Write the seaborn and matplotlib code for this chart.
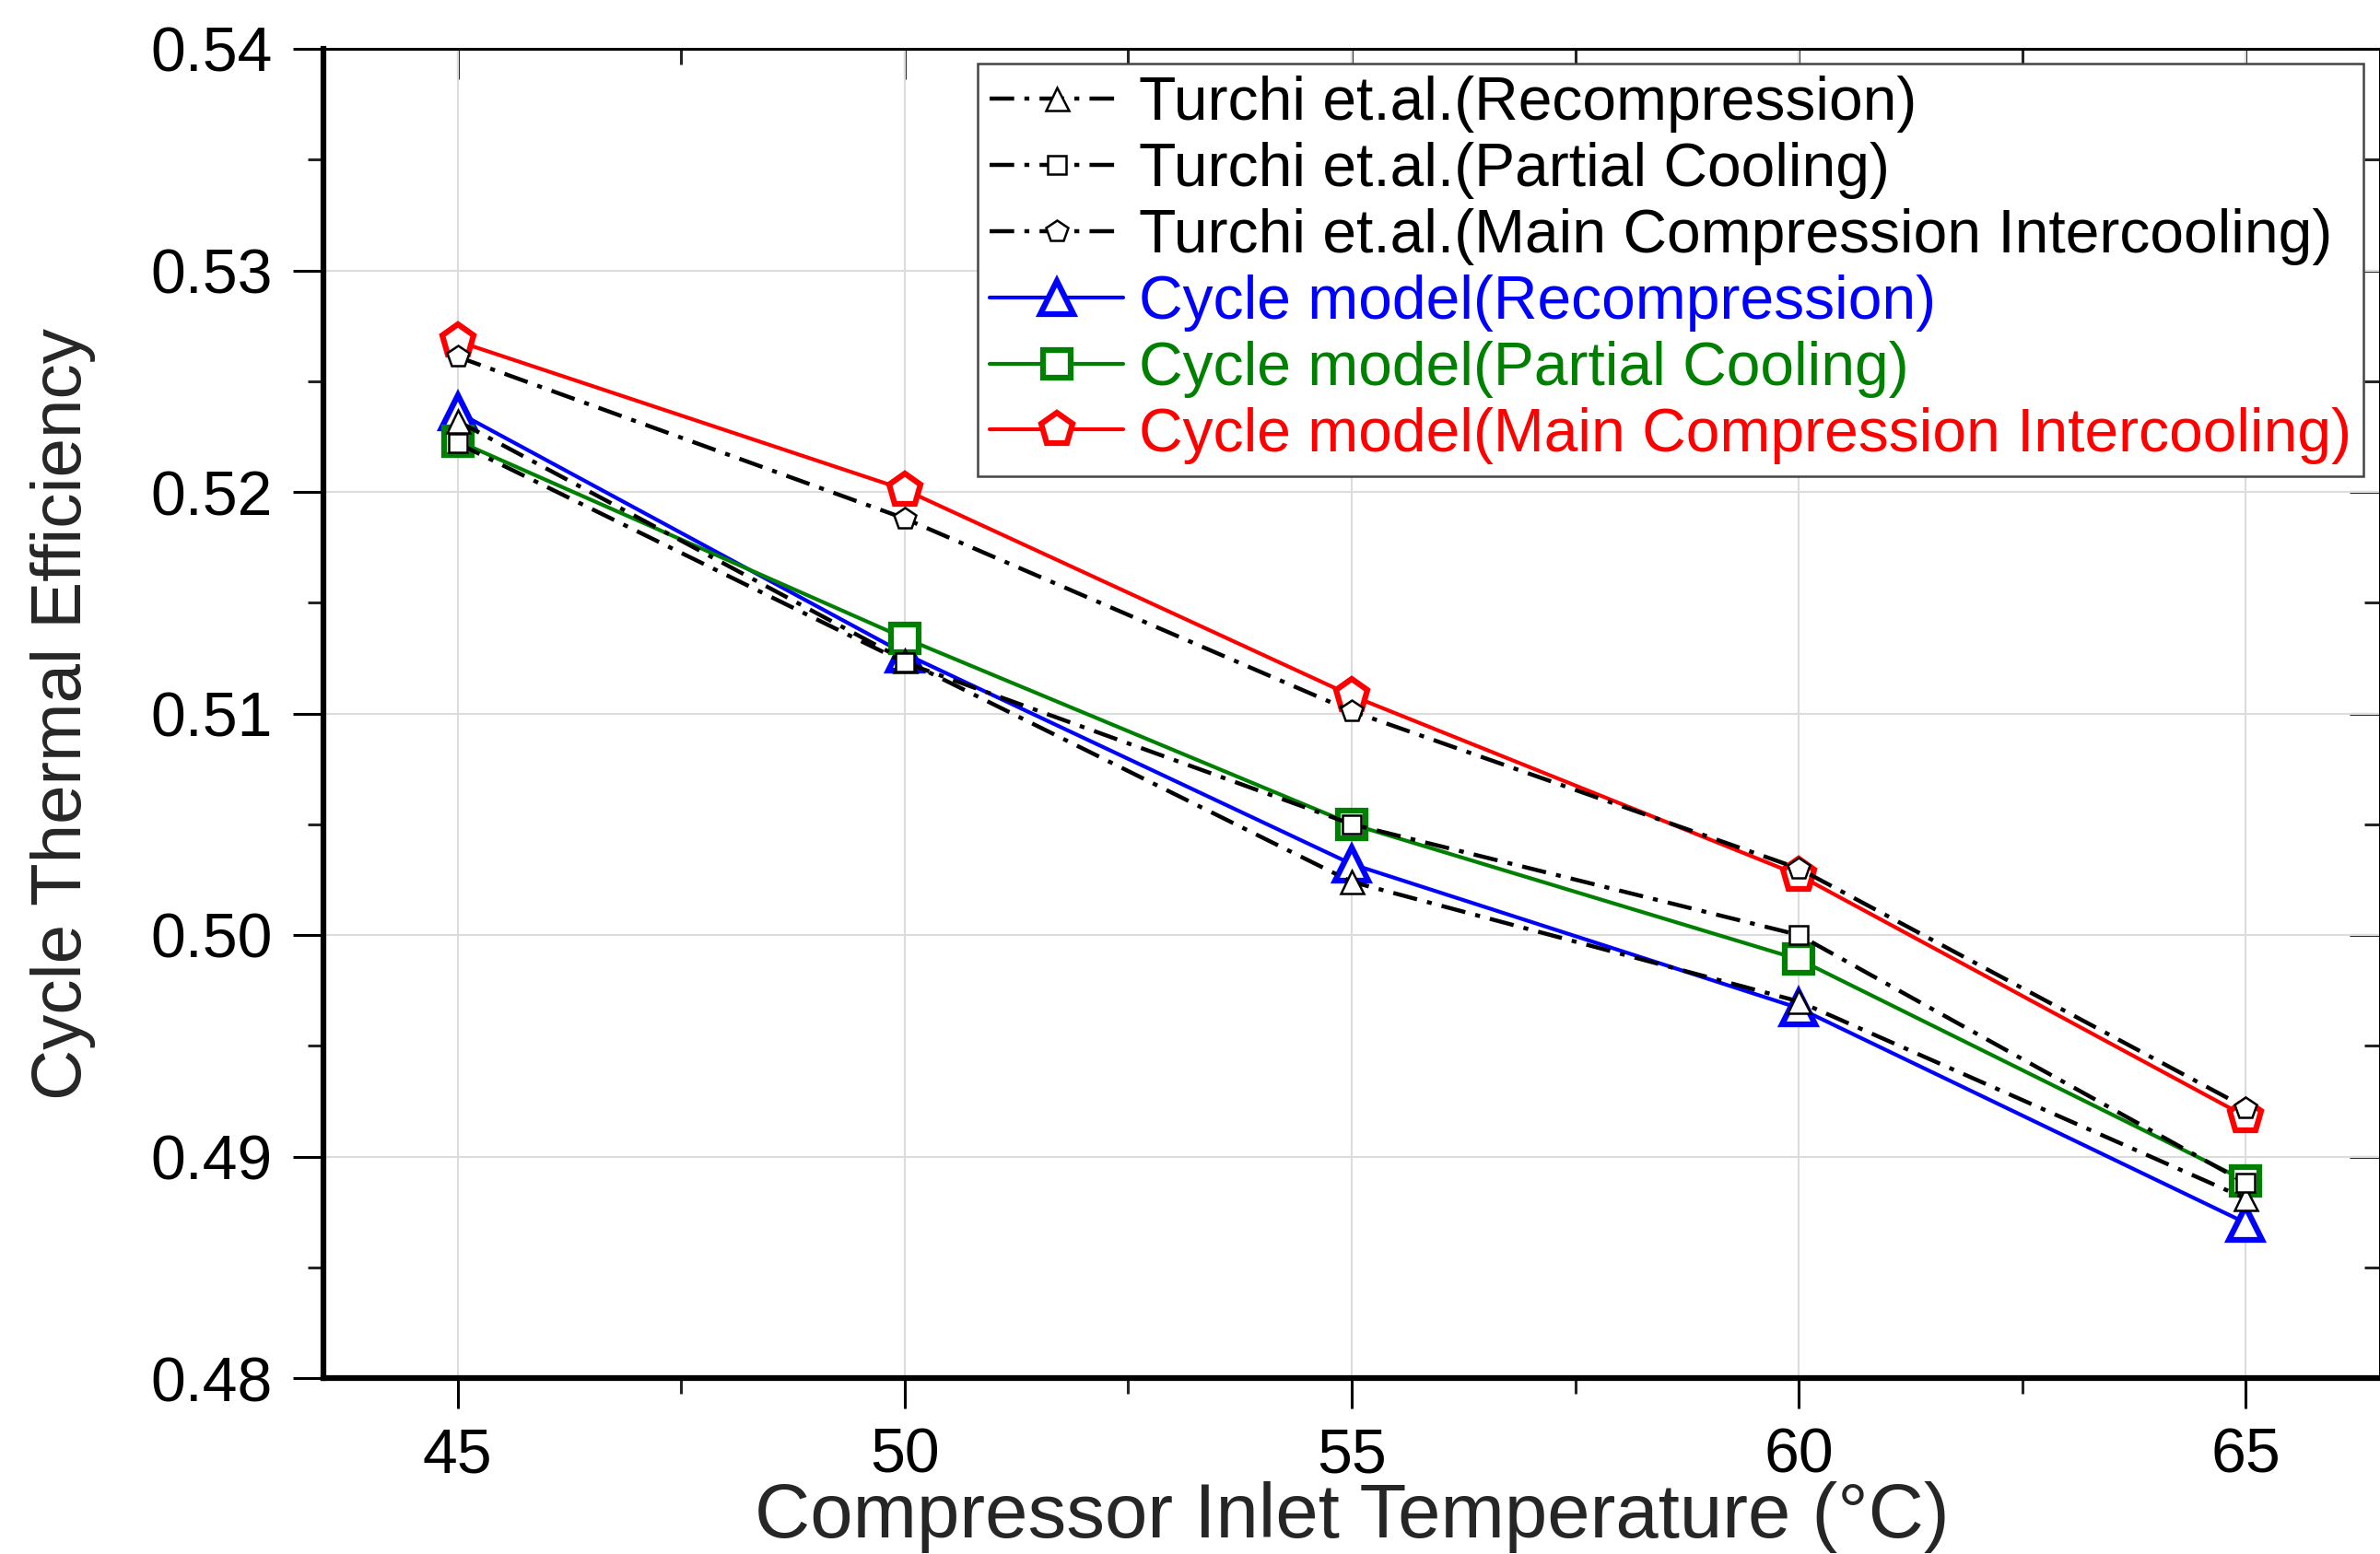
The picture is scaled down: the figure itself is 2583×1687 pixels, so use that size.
import matplotlib
matplotlib.use("Agg")
import matplotlib.pyplot as plt
import seaborn as sns
import numpy as np
from matplotlib.ticker import MultipleLocator, FixedLocator

# ---- data ----
temps = [45, 50, 55, 60, 65]
turchi_recomp = [0.5232, 0.5124, 0.5024, 0.4970, 0.4881]
turchi_partial = [0.5222, 0.5123, 0.5050, 0.5000, 0.4888]
turchi_mci = [0.5261, 0.5188, 0.5101, 0.5030, 0.4922]
model_recomp = [0.5236, 0.5127, 0.5032, 0.4967, 0.4870]
model_partial = [0.5223, 0.5134, 0.5050, 0.4989, 0.4889]
model_mci = [0.5268, 0.5201, 0.5108, 0.5027, 0.4918]

labels_turchi = ["Turchi et.al.(Recompression)",
                 "Turchi et.al.(Partial Cooling)",
                 "Turchi et.al.(Main Compression Intercooling)"]
labels_model = ["Cycle model(Recompression)",
                "Cycle model(Partial Cooling)",
                "Cycle model(Main Compression Intercooling)"]
xticks = [45, 50, 55, 60, 65]
yticks = [0.48, 0.49, 0.50, 0.51, 0.52, 0.53, 0.54]

sns.set_style("white")
plt.rcParams['font.family'] = ['Liberation Sans', 'DejaVu Sans']

fig = plt.figure(figsize=(25.83, 16.87), dpi=100)
ax = fig.add_axes([351/2583, 1 - 1496/1687, (2583 - 351)/2583, (1496 - 53)/1687])

markers = ['^', 's', 'p']
model_colors = ['#0000ff', '#008000', '#ff0000']
dashdot = (0, (6, 2.5, 1.2, 2.5))

for ys, lab, mk, col in zip([model_recomp, model_partial, model_mci], labels_model, markers, model_colors):
    sns.lineplot(x=temps, y=ys, ax=ax, color=col, linewidth=3.0, marker=mk,
                 markersize=26 if mk != 's' else 21, markerfacecolor='white',
                 markeredgecolor=col, markeredgewidth=4.5, label=lab, zorder=3)

for ys, lab, mk in zip([turchi_recomp, turchi_partial, turchi_mci], labels_turchi, markers):
    sns.lineplot(x=temps, y=ys, ax=ax, color='black', linewidth=3.2, linestyle=dashdot,
                 marker=mk, markersize=18 if mk != 's' else 15, markerfacecolor='white',
                 markeredgecolor='black', markeredgewidth=1.8, label=lab, zorder=4)

ax.set_xlim(43.5, 66.5)
ax.set_ylim(0.48, 0.54)
ax.xaxis.set_major_locator(FixedLocator(xticks))
ax.xaxis.set_minor_locator(MultipleLocator(2.5))
ax.yaxis.set_major_locator(FixedLocator(yticks))
ax.yaxis.set_minor_locator(MultipleLocator(0.005))
ax.set_xticklabels([str(t) for t in xticks])
ax.set_yticklabels([f"{t:.2f}" for t in yticks])

ax.grid(True, which='major', color='#dcdcdc', linewidth=1.5)
ax.set_axisbelow(True)

ax.tick_params(axis='both', which='major', direction='out', length=24, width=2.2,
               labelsize=49, colors='black')
ax.tick_params(axis='both', which='minor', direction='out', length=12, width=2.2)
ax.tick_params(axis='x', which='major', pad=14)
ax.tick_params(axis='y', which='major', pad=16)
ax.tick_params(axis='x', which='both', bottom=True, top=False)
ax.tick_params(axis='y', which='both', left=True, right=False)

for s in ['left', 'bottom']:
    ax.spines[s].set_linewidth(4.5)
    ax.spines[s].set_color('black')
for s in ['top', 'right']:
    ax.spines[s].set_linewidth(2.2)
    ax.spines[s].set_color('black')

secx = ax.secondary_xaxis('top')
secx.xaxis.set_major_locator(FixedLocator(xticks))
secx.xaxis.set_minor_locator(MultipleLocator(2.5))
secx.tick_params(which='major', direction='in', length=24, width=2.2, labeltop=False)
secx.tick_params(which='minor', direction='in', length=12, width=2.2)
secx.set_xticklabels([])
secx.spines['top'].set_visible(False)

secy = ax.secondary_yaxis('right')
secy.yaxis.set_major_locator(FixedLocator(yticks))
secy.yaxis.set_minor_locator(MultipleLocator(0.005))
secy.tick_params(which='major', direction='in', length=24, width=2.2, labelright=False)
secy.tick_params(which='minor', direction='in', length=12, width=2.2)
secy.set_yticklabels([])
secy.spines['right'].set_visible(False)

ax.set_xlabel("Compressor Inlet Temperature (°C)", fontsize=60)
ax.set_ylabel("Cycle Thermal Efficiency", fontsize=55)
ax.xaxis.set_label_coords(0.5, (1496 - 1647) / 1443)
ax.xaxis.label.set_va('center')
ax.yaxis.set_label_coords((69 - 351) / 2232, 0.5)
ax.yaxis.label.set_va('center')

handles, labs = ax.get_legend_handles_labels()
order = [labs.index(l) for l in labels_turchi + labels_model]
leg = ax.legend([handles[i] for i in order], [labs[i] for i in order],
                loc='upper right', bbox_to_anchor=(0.992, 0.989), borderaxespad=0,
                fontsize=47.5, labelcolor='linecolor', handlelength=2.2, handletextpad=0.25,
                labelspacing=0.15, borderpad=0.2, frameon=True, fancybox=False,
                framealpha=1, edgecolor='#444444')
leg.get_frame().set_linewidth(1.8)
leg.set_zorder(10)

fig.savefig("out.png", dpi=100)
